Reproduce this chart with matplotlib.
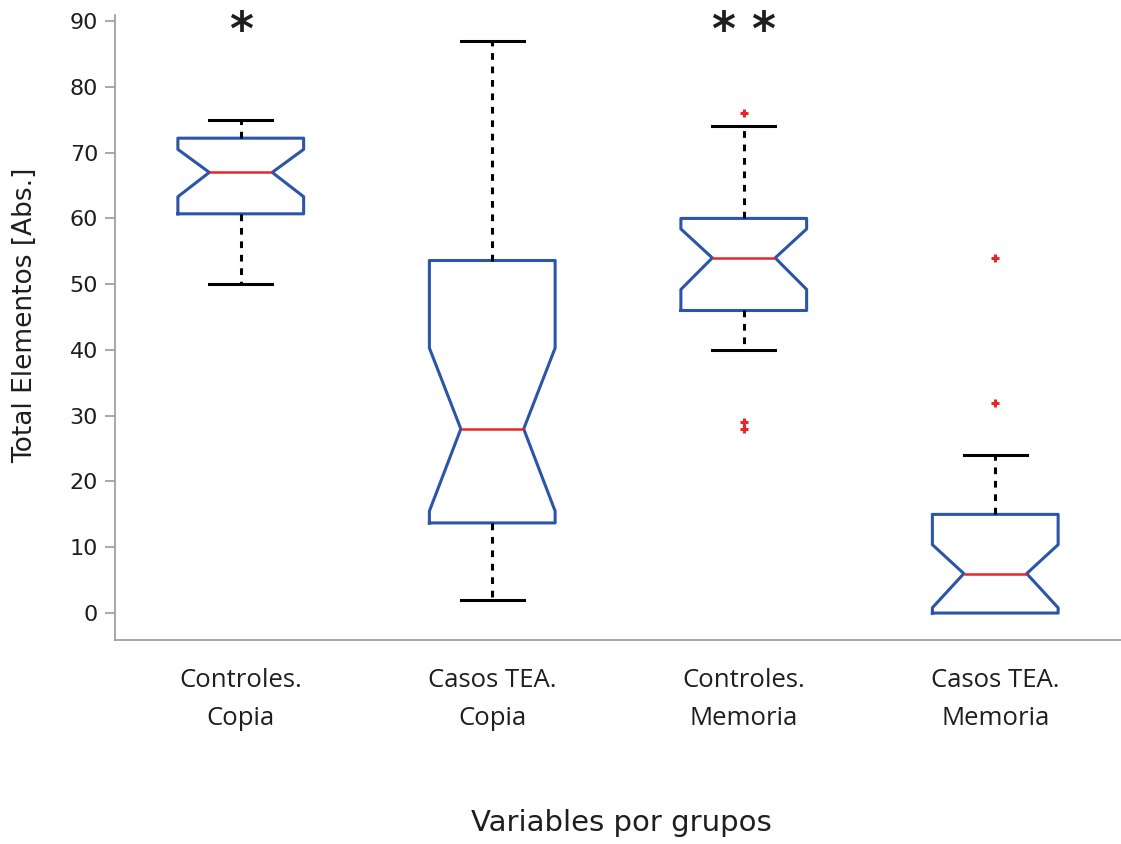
import matplotlib
matplotlib.use("Agg")
import matplotlib.pyplot as plt

# Grupos y estadisticos de cada caja (valores en elementos absolutos)
grupos = ["Controles.\nCopia", "Casos TEA.\nCopia", "Controles.\nMemoria", "Casos TEA.\nMemoria"]
medianas = [67, 28, 54, 6]
q1 = [60.7, 13.7, 46, 0]
q3 = [72.2, 53.6, 60, 15]
bigote_inf = [50, 2, 40, 0]
bigote_sup = [75, 87, 74, 24]
ic_inf = [63.3, 15.5, 49.2, 0.8]
ic_sup = [70.5, 40.3, 58.4, 10.4]
atipicos = [[], [], [76, 29, 28], [32, 54]]
significancia = ["*", "", "* *", ""]

plt.rcParams["font.family"] = ["DejaVu Sans"]

stats = []
for i in range(len(grupos)):
    stats.append({
        "label": grupos[i],
        "med": medianas[i],
        "q1": q1[i],
        "q3": q3[i],
        "whislo": bigote_inf[i],
        "whishi": bigote_sup[i],
        "cilo": ic_inf[i],
        "cihi": ic_sup[i],
        "fliers": atipicos[i],
    })

azul = "#2b55a8"
rojo = "#e8262a"
gris = "#9a9a9a"
texto = "#1e1e1e"

fig = plt.figure(figsize=(11.21, 8.44), dpi=100)
ax = fig.add_axes([0.1026, 0.2417, 0.8974, 0.7403])

bp = ax.bxp(
    stats,
    positions=range(1, len(grupos) + 1),
    widths=0.5,
    shownotches=True,
    boxprops=dict(color=azul, linewidth=2.2),
    medianprops=dict(color=rojo, linewidth=1.8),
    whiskerprops=dict(color="black", linewidth=2.2, linestyle=(0, (2.2, 2.2))),
    capprops=dict(color="black", linewidth=2.2),
    flierprops=dict(marker="+", markeredgecolor=rojo, markersize=6, markeredgewidth=2.2),
)

# sin bigote cuando coincide con el cuartil
for i in range(len(grupos)):
    if bigote_inf[i] == q1[i]:
        bp["caps"][2 * i].set_visible(False)
        bp["whiskers"][2 * i].set_visible(False)

for i, s in enumerate(significancia):
    if s:
        ax.text(i + 1, 88.3, s, ha="center", va="center", fontsize=33,
                fontweight="bold", color=texto)

ax.set_xlim(0.5, 4.5)
ax.set_ylim(-4.1, 90.9)
ax.set_yticks(range(0, 91, 10))

ax.spines["top"].set_visible(False)
ax.spines["right"].set_visible(False)
ax.spines["left"].set_color(gris)
ax.spines["bottom"].set_color(gris)
ax.spines["left"].set_linewidth(1.2)
ax.spines["bottom"].set_linewidth(1.2)

ax.tick_params(axis="y", length=7.2, color=gris, width=1.2, labelsize=16, pad=5, labelcolor=texto)
ax.tick_params(axis="x", length=0, pad=20, labelcolor=texto)
for t in ax.get_xticklabels():
    t.set_family(["Open Sans", "DejaVu Sans"])
    t.set_fontsize(18.5)
    t.set_linespacing(1.7)

ax.set_ylabel("Total Elementos [Abs.]", fontsize=19, color=texto)
ax.yaxis.set_label_coords(-0.0765, 0.52)
ax.set_xlabel("Variables por grupos", fontsize=21, color=texto)
ax.xaxis.set_label_coords(0.503, -0.27)

fig.savefig("out.png", dpi=100)
